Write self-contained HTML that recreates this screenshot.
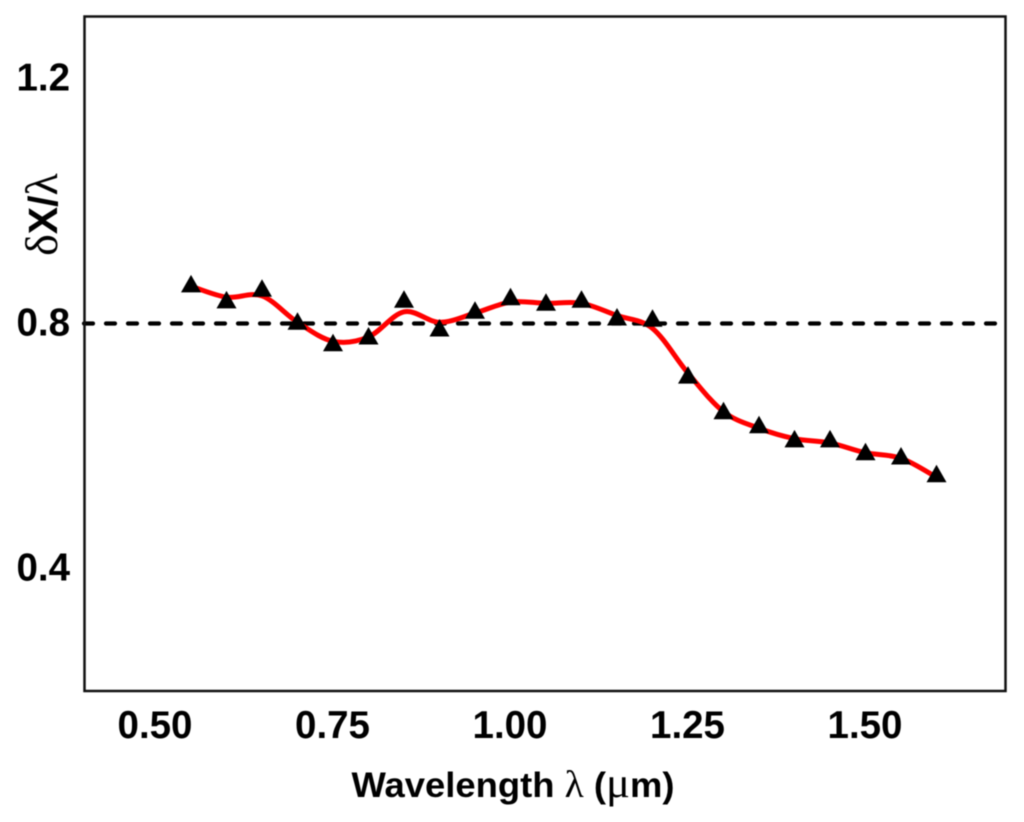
<!DOCTYPE html>
<html lang="en">
<head>
<meta charset="utf-8">
<title>Wavelength chart</title>
<style>
html,body{margin:0;padding:0;background:#fff;}
svg{display:block;filter:blur(0.5px);}
text{font-family:"Liberation Sans",sans-serif;font-weight:bold;fill:#000;}
.greek{font-family:"Liberation Serif",serif;font-weight:normal;}
</style>
</head>
<body>
<svg id="chart" xmlns="http://www.w3.org/2000/svg" width="1024" height="822" viewBox="0 0 1024 822">
  <rect x="0" y="0" width="1024" height="822" fill="#fff"/>
  <text transform="translate(57,214.5) rotate(-90)" text-anchor="middle" font-size="41"><tspan class="greek" font-size="46">δ</tspan>X/<tspan class="greek" font-size="46">λ</tspan></text>
  <text x="513" y="797" text-anchor="middle" font-size="35" textLength="323" lengthAdjust="spacingAndGlyphs">Wavelength <tspan class="greek" font-size="38">λ</tspan> (<tspan class="greek" font-size="43">μ</tspan>m)</text>
</svg>
<script>
const wavelengths = [0.55,0.60,0.65,0.70,0.75,0.80,0.85,0.90,0.95,1.00,1.05,1.10,1.15,1.20,1.25,1.30,1.35,1.40,1.45,1.50,1.55,1.60];
const measured = [0.863,0.837,0.856,0.802,0.767,0.778,0.838,0.791,0.820,0.842,0.833,0.838,0.809,0.807,0.714,0.656,0.633,0.610,0.610,0.589,0.582,0.553];
const smoothed = [0.861,0.843,0.845,0.802,0.771,0.778,0.819,0.802,0.817,0.835,0.833,0.833,0.813,0.792,0.719,0.656,0.629,0.612,0.605,0.589,0.580,0.549];
const xTicks = [0.50,0.75,1.00,1.25,1.50];
const yTicks = [0.4,0.8,1.2];
const referenceLevel = [0.8];

const X = v => 155.5 + (v - 0.5) * 710;
const Y = v => 323.5 - (v - 0.8) * 612.5;
const NS = 'http://www.w3.org/2000/svg';
const svg = document.getElementById('chart');
const frame = {l:84.5, t:16.5, r:1005.5, b:691};

const refLine = document.createElementNS(NS,'line');


refLine.setAttribute('x1', 84);
refLine.setAttribute('x2', frame.r);
refLine.setAttribute('y1', Y(referenceLevel[0]));
refLine.setAttribute('y2', Y(referenceLevel[0]));
refLine.setAttribute('stroke', '#000');
refLine.setAttribute('stroke-width', 4.2);
refLine.setAttribute('stroke-linecap', 'round');
refLine.setAttribute('stroke-dasharray', '9 13');
svg.appendChild(refLine);

const border = document.createElementNS(NS,'rect');


border.setAttribute('x', frame.l);
border.setAttribute('y', frame.t);
border.setAttribute('width', frame.r - frame.l);
border.setAttribute('height', frame.b - frame.t);
border.setAttribute('fill', 'none');
border.setAttribute('stroke', '#111');
border.setAttribute('stroke-width', 2.5);
svg.appendChild(border);

xTicks.forEach(t => {
  const el = document.createElementNS(NS,'text');
  
  
  el.setAttribute('x', X(t) - 0.5);
  el.setAttribute('y', 738);
  el.setAttribute('text-anchor', 'middle');
  el.setAttribute('font-size', 38.5);
  el.textContent = t.toFixed(2);
  svg.appendChild(el);
});

yTicks.forEach(t => {
  const el = document.createElementNS(NS,'text');
  
  
  el.setAttribute('x', 70);
  el.setAttribute('y', Y(t) + 12);
  el.setAttribute('text-anchor', 'end');
  el.setAttribute('font-size', 38.5);
  el.textContent = t.toFixed(1);
  svg.appendChild(el);
});

const pts = wavelengths.map((w,i) => [X(w), Y(smoothed[i])]);
let d = 'M' + pts[0][0] + ' ' + pts[0][1];
for (let i = 0; i < pts.length - 1; i++) {
  const p0 = pts[Math.max(i-1,0)], p1 = pts[i], p2 = pts[i+1], p3 = pts[Math.min(i+2,pts.length-1)];
  d += ' C' + (p1[0]+(p2[0]-p0[0])/6) + ' ' + (p1[1]+(p2[1]-p0[1])/6) + ' ' +
       (p2[0]-(p3[0]-p1[0])/6) + ' ' + (p2[1]-(p3[1]-p1[1])/6) + ' ' + p2[0] + ' ' + p2[1];
}
const curve = document.createElementNS(NS,'path');


curve.setAttribute('d', d);
curve.setAttribute('fill', 'none');
curve.setAttribute('stroke', '#ff0000');
curve.setAttribute('stroke-width', 5);
curve.setAttribute('stroke-linecap', 'round');
curve.setAttribute('stroke-linejoin', 'round');
svg.appendChild(curve);

measured.forEach((v,i) => {
  const cx = X(wavelengths[i]), cy = Y(v);
  const tri = document.createElementNS(NS,'polygon');
  
  
  tri.setAttribute('points', (cx) + ',' + (cy-10) + ' ' + (cx+10) + ',' + (cy+7.5) + ' ' + (cx-10) + ',' + (cy+7.5));
  tri.setAttribute('fill', '#000');
  svg.appendChild(tri);
});
</script>
</body>
</html>
